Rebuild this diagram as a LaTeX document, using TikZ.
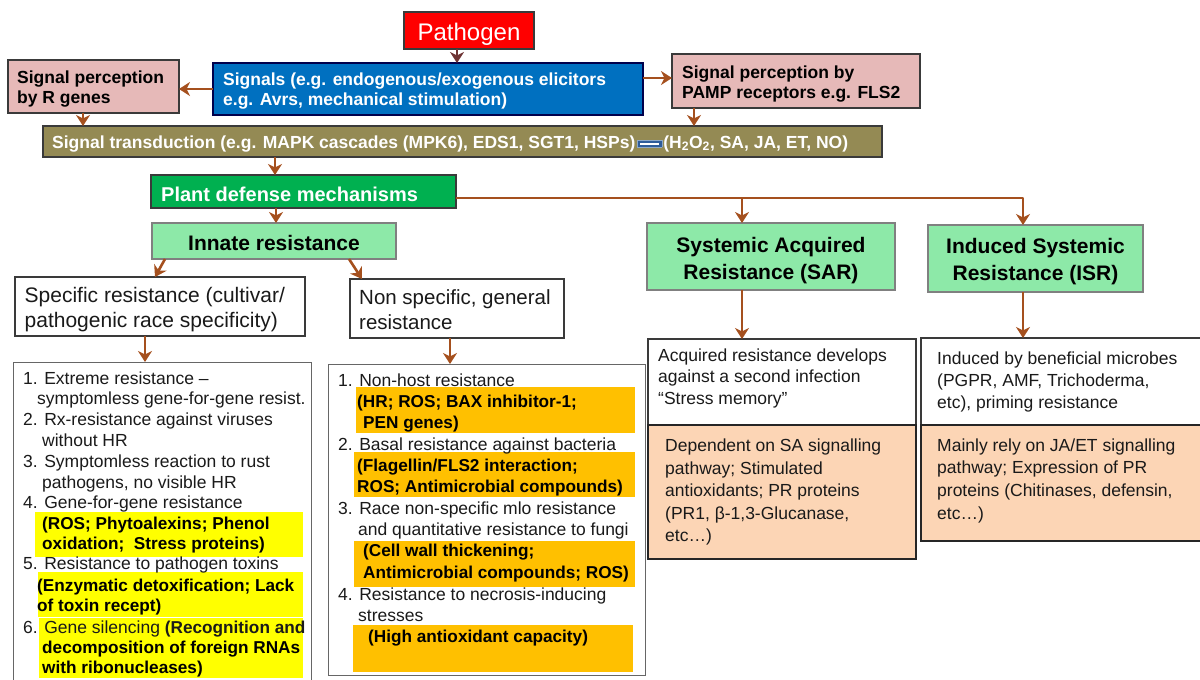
\documentclass[tikz,border=0pt]{standalone}
\usepackage{fontspec}
\setmainfont{Liberation Sans}
\usetikzlibrary{arrows.meta}

\definecolor{arrc}{HTML}{A5501E}
\definecolor{arrd}{HTML}{6E3434}
\definecolor{pathred}{HTML}{FF0000}
\definecolor{sigblue}{HTML}{0070C0}
\definecolor{pinkc}{HTML}{E6B9B8}
\definecolor{olivec}{HTML}{948A54}
\definecolor{pdgreen}{HTML}{00B050}
\definecolor{lgreen}{HTML}{8DE9A8}
\definecolor{hlyel}{HTML}{FFFF00}
\definecolor{hlor}{HTML}{FFC000}
\definecolor{peach}{HTML}{FCD5B5}
\definecolor{bord}{HTML}{3A3A3A}
\definecolor{dashblue}{HTML}{2E5C9A}
\definecolor{dashbord}{HTML}{8EA9C8}
\definecolor{txt}{HTML}{1A1A1A}

\newcommand{\fsz}[2]{\fontsize{#1}{#2}\selectfont}
\newcommand{\mybox}[6]{\node[boxs,#1,anchor=north west,minimum width={(#4-#2)*1pt},minimum height={(#5-#3)*1pt}] (#6) at (#2,#3) {};}
\newcommand{\dashmark}{\raisebox{3.5pt}{\setlength{\fboxsep}{2.2pt}\setlength{\fboxrule}{0.8pt}\fcolorbox{dashbord}{dashblue}{\textcolor{white}{\rule{19pt}{1.8pt}}}}}

\begin{document}
\begin{tikzpicture}[x=1pt,y=-1pt,
  boxs/.style={draw=bord,line width=1.2pt,inner sep=0pt,outer sep=0pt},
  arr/.style={draw=arrc,line width=2.6pt,line join=round,-{Stealth[length=11pt,width=14pt,inset=3.5pt]}},
  arrdk/.style={arr,draw=arrd},
  lt/.style={inner sep=0pt,anchor=base west,font=\fsz{17.5}{20},text=txt},
  lb/.style={lt,font=\fsz{17.2}{20}\bfseries,text=black},
  tb/.style={inner sep=0pt,anchor=west,align=left,font=\fsz{17.5}{20}\bfseries},
  tr/.style={inner sep=0pt,anchor=west,align=left,font=\fsz{17.5}{22}},
  hd/.style={inner sep=0pt,align=center,font=\fsz{21}{27}\bfseries}
]
\useasboundingbox (0,0) rectangle (1200,680);

% boxes
\mybox{fill=pathred}{404}{12}{534}{49}{path}
\mybox{fill=sigblue,draw=black!70!blue}{213}{63}{643}{115}{sig}
\mybox{fill=pinkc}{8}{60}{179}{113}{rg}
\mybox{fill=pinkc}{672}{54}{920}{108}{pamp}
\mybox{fill=olivec}{43}{126}{882}{157}{trans}
\mybox{fill=pdgreen}{151}{175}{456}{208}{pd}
\mybox{fill=lgreen,draw=gray}{152}{223}{396}{259}{inn}
\mybox{fill=lgreen,draw=gray}{647}{223}{895}{290}{sar}
\mybox{fill=lgreen,draw=gray}{928}{225}{1143}{292}{isr}
\mybox{fill=white}{15}{277}{305}{336}{spec}
\mybox{fill=white}{350}{279}{564}{338}{nons}
\mybox{fill=white,line width=1pt,draw=black!60}{13}{362}{311}{700}{lista}
\mybox{fill=white,line width=1pt,draw=black!60}{328}{364}{645}{675}{listb}
\mybox{fill=white}{648}{339}{916}{425}{sarw}
\mybox{fill=peach,draw=black!85}{648}{425}{916}{559}{saro}
\mybox{fill=white}{921}{338}{1210}{425}{isrw}
\mybox{fill=peach,draw=black!85}{921}{425}{1210}{541}{isro}

% highlights
\fill[hlyel] (35,512) rectangle (303,557);
\fill[hlyel] (38,572) rectangle (303,617);
\fill[hlyel] (39,618) rectangle (303,678);
\fill[hlor] (356,387) rectangle (635,433);
\fill[hlor] (354,452) rectangle (635,497);
\fill[hlor] (354,541) rectangle (635,587);
\fill[hlor] (353,625) rectangle (633,672);

% box texts
\node[inner sep=0pt,font=\fsz{24}{28},text=white] (path-t) at ([yshift=-3.4pt]path.center) {Pathogen};
\node[tb,text=white] (sig-t) at ([xshift=10pt,yshift=-2.3pt]sig.west) {Signals (e.g. endogenous/exogenous elicitors\\e.g. Avrs, mechanical stimulation)};
\node[tb,text=black] (rg-t) at ([xshift=9pt,yshift=-2.3pt]rg.west) {Signal perception\\by R genes};
\node[tb,text=black] (pamp-t) at ([xshift=10pt,yshift=-2.8pt]pamp.west) {Signal perception by\\PAMP receptors e.g. FLS2};
\node[tb,text=white] (trans-t) at ([xshift=9pt,yshift=-2.3pt]trans.west) {Signal transduction (e.g. MAPK cascades (MPK6), EDS1, SGT1, HSPs)\hspace{2pt}\dashmark\hspace{1pt}(H\textsubscript{2}O\textsubscript{2}, SA, JA, ET, NO)};
\node[tb,text=white,font=\fsz{20}{24}\bfseries] (pd-t) at ([xshift=10pt,yshift=-2.5pt]pd.west) {Plant defense mechanisms};
\node[hd] (inn-t) at ([yshift=-2pt]inn.center) {Innate resistance};
\node[hd] (sar-t) at ([yshift=-4pt]sar.center) {Systemic Acquired\\Resistance (SAR)};
\node[hd] (isr-t) at ([yshift=-3pt]isr.center) {Induced Systemic\\Resistance (ISR)};
\node[tr,font=\fsz{21}{25},text=txt] (spec-t) at ([xshift=9.5pt,yshift=-3.1pt]spec.west) {Specific resistance (cultivar/\\pathogenic race specificity)};
\node[tr,font=\fsz{20.5}{25},text=txt] (nons-t) at ([xshift=9pt,yshift=-0.8pt]nons.west) {Non specific, general\\resistance};
\node[tr,font=\fsz{17.5}{21.5},text=txt] (sarw-t) at ([xshift=10pt,yshift=3.7pt]sarw.west) {Acquired resistance develops\\against a second infection\\“Stress memory”};
\node[tr,font=\fsz{17.5}{22.5},text=txt] (saro-t) at ([xshift=17pt]saro.west) {Dependent on SA signalling\\pathway; Stimulated\\antioxidants; PR proteins\\(PR1, β-1,3-Glucanase,\\etc…)};
\node[tr,font=\fsz{17.5}{22},text=txt] (isrw-t) at ([xshift=16pt]isrw.west) {Induced by beneficial microbes\\(PGPR, AMF, Trichoderma,\\etc), priming resistance};
\node[tr,font=\fsz{17.5}{22.7},text=txt] (isro-t) at ([xshift=16pt,yshift=2.2pt]isro.west) {Mainly rely on JA/ET signalling\\pathway; Expression of PR\\proteins (Chitinases, defensin,\\etc…)};

% list 1
\node[lt] (a1) at (23,384) {1. Extreme resistance –};
\node[lt] (a2) at (37,404) {symptomless gene-for-gene resist.};
\node[lt] (a3) at (23,425) {2. Rx-resistance against viruses};
\node[lt] (a4) at (42,446) {without HR};
\node[lt] (a5) at (23,467) {3. Symptomless reaction to rust};
\node[lt] (a6) at (42,488) {pathogens, no visible HR};
\node[lt] (a7) at (23,508) {4. Gene-for-gene resistance};
\node[lb] (a8) at (42,529) {(ROS; Phytoalexins; Phenol};
\node[lb] (a9) at (42,549) {oxidation;\ \ Stress proteins)};
\node[lt] (a10) at (23,569) {5. Resistance to pathogen toxins};
\node[lb] (a11) at (37,591) {(Enzymatic detoxification; Lack};
\node[lb] (a12) at (37,611) {of toxin recept)};
\node[lt] (a13) at (23,633) {6. Gene silencing \textbf{\fsz{17.2}{20}(Recognition and}};
\node[lb] (a14) at (42,653) {decomposition of foreign RNAs};
\node[lb] (a15) at (42,673) {with ribonucleases)};

% list 2
\node[lt] (b1) at (338,386) {1. Non-host resistance};
\node[lb] (b2) at (357,407) {(HR; ROS; BAX inhibitor-1;};
\node[lb] (b3) at (363,428) {PEN genes)};
\node[lt] (b4) at (338,450) {2. Basal resistance against bacteria};
\node[lb] (b5) at (357,471) {(Flagellin/FLS2 interaction;};
\node[lb] (b6) at (357,492) {ROS; Antimicrobial compounds)};
\node[lt] (b7) at (338,514) {3. Race non-specific mlo resistance};
\node[lt] (b8) at (358,535) {and quantitative resistance to fungi};
\node[lb] (b9) at (363,556) {(Cell wall thickening;};
\node[lb] (b10) at (363,578) {Antimicrobial compounds; ROS)};
\node[lt] (b11) at (338,600) {4. Resistance to necrosis-inducing};
\node[lt] (b12) at (358,621) {stresses};
\node[lb] (b13) at (368,642) {(High antioxidant capacity)};

% connector guide coordinates
\coordinate (X457) at (457,0);
\coordinate (X83) at (83,0);
\coordinate (X694) at (694,0);
\coordinate (X275) at (275,0);
\coordinate (X276) at (276,0);
\coordinate (X165) at (165,0);
\coordinate (X155) at (155,0);
\coordinate (X349) at (349,0);
\coordinate (X362) at (362,0);
\coordinate (X145) at (145,0);
\coordinate (X450) at (450,0);
\coordinate (Y89) at (0,89);
\coordinate (Y78) at (0,78);
\coordinate (J1) at (742,198);
\coordinate (J2) at (1023,198);

% connectors
\draw[arrdk] (path.south -| X457) -- (sig.north -| X457);
\draw[arr] (sig.west |- Y89) -- (rg.east |- Y89);
\draw[arr] (sig.east |- Y78) -- (pamp.west |- Y78);
\draw[arr] (rg.south -| X83) -- (trans.north -| X83);
\draw[arr] (pamp.south -| X694) -- (trans.north -| X694);
\draw[arr] (trans.south -| X275) -- (pd.north -| X275);
\draw[arr] (pd.south -| X276) -- (inn.north -| X276);
\draw[arr] (pd.east |- J1) -- (J2) -- (isr.north -| J2);
\draw[arr] (J1) -- (sar.north -| J1);
\draw[arr] (inn.south -| X165) -- (spec.north -| X155);
\draw[arr] (inn.south -| X349) -- (nons.north -| X362);
\draw[arr] (spec.south -| X145) -- (lista.north -| X145);
\draw[arr] (nons.south -| X450) -- (listb.north -| X450);
\draw[arr] (sar.south -| J1) -- (sarw.north -| J1);
\draw[arr] (isr.south -| J2) -- (isrw.north -| J2);
\end{tikzpicture}
\end{document}
